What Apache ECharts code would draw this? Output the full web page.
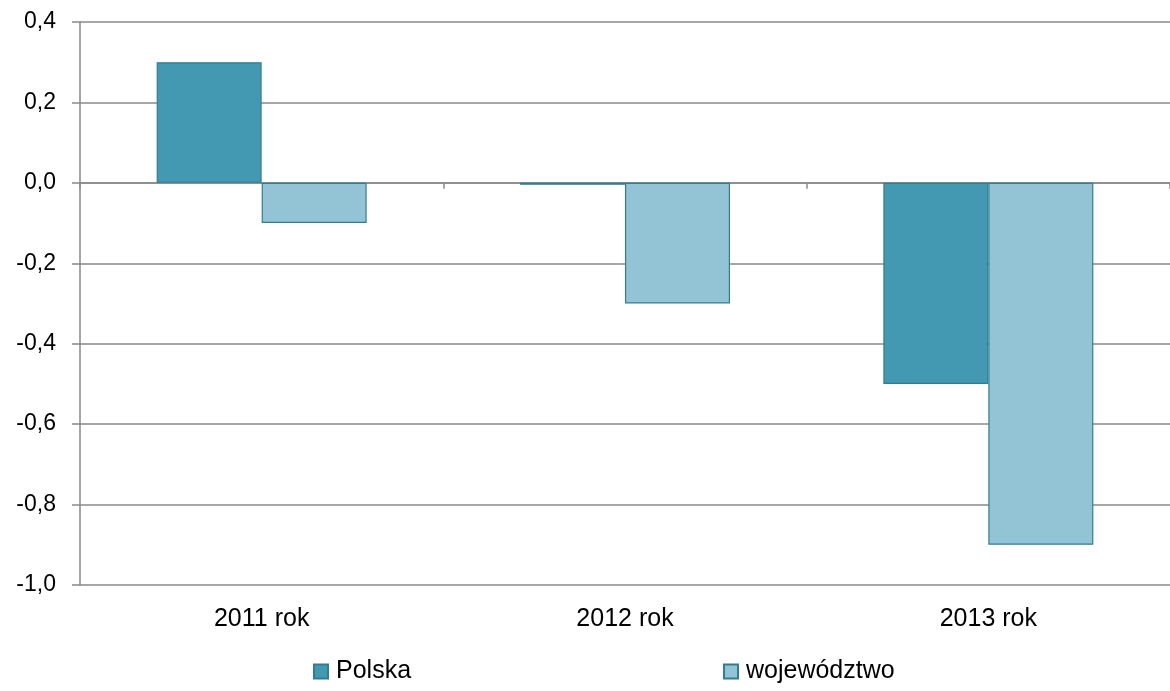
<!DOCTYPE html>
<html><head><meta charset="utf-8">
<script src="https://cdn.jsdelivr.net/npm/echarts@6/dist/echarts.min.js"></script>
<style>html,body{margin:0;padding:0;background:#fff}#c{width:1170px;height:691px}</style>
</head><body><div id="c"></div>
<script>
const categories = ['2011 rok', '2012 rok', '2013 rok'];
const polska = [0.3, -0.005, -0.5];
const wojewodztwo = [-0.1, -0.3, -0.9];
const seriesNames = ['Polska', 'województwo'];

const fontFamily = '"Liberation Sans", Arial, sans-serif';
const chart = echarts.init(document.getElementById('c'), null, {renderer: 'canvas'});
const legendBase = {
  top: 654, itemWidth: 14, itemHeight: 14, icon: 'rect',
  textStyle: {fontFamily: fontFamily, fontSize: 25, color: '#000', padding: [0,0,0,3]}
};
chart.setOption({
  animation: false,
  backgroundColor: '#ffffff',
  textStyle: {fontFamily: fontFamily},
  grid: {left: 80, right: -4, top: 22, bottom: 106, containLabel: false},
  legend: [
    Object.assign({}, legendBase, {left: 308, data: [seriesNames[0]]}),
    Object.assign({}, legendBase, {left: 718, data: [seriesNames[1]]})
  ],
  xAxis: [{
    type: 'category', data: categories,
    axisLine: {onZero: true, lineStyle: {color: '#898989', width: 1.5}},
    axisTick: {show: true, length: 6, lineStyle: {color: '#898989', width: 1.5}},
    axisLabel: {show: false},
    splitLine: {show: false}
  }, {
    type: 'category', data: categories, position: 'bottom',
    axisLine: {show: false}, axisTick: {show: false},
    axisLabel: {show: true, margin: 22, fontSize: 25, color: '#000', fontFamily: fontFamily}
  }],
  yAxis: {
    type: 'value', min: -1.0, max: 0.4, interval: 0.2,
    axisLine: {show: true, lineStyle: {color: '#898989', width: 1.5}},
    axisTick: {show: true, length: 8, lineStyle: {color: '#898989', width: 1.5}},
    axisLabel: {margin: 24, fontSize: 23, color: '#000', fontFamily: fontFamily,
      formatter: v => v.toFixed(1).replace('.', ',')},
    splitLine: {show: true, lineStyle: {color: '#898989', width: 1.5}}
  },
  series: [{
    name: seriesNames[0], type: 'bar', data: polska, xAxisIndex: 0,
    barWidth: 105, barGap: '0%',
    itemStyle: {color: '#4399b1', borderColor: '#337d92', borderWidth: 1.2}
  }, {
    name: seriesNames[1], type: 'bar', data: wojewodztwo, xAxisIndex: 0,
    barWidth: 105, barGap: '0%',
    itemStyle: {color: '#93c4d5', borderColor: '#337d92', borderWidth: 1.2}
  }]
});
</script></body></html>
